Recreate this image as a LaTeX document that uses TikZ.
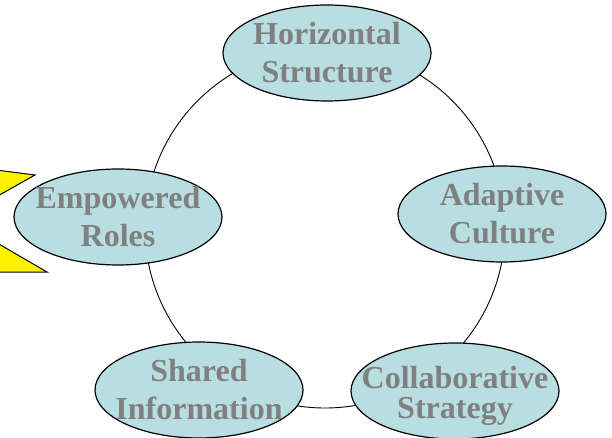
\documentclass[tikz,border=0pt]{standalone}
\usepackage{fontspec}
\setmainfont{Liberation Serif}
\usetikzlibrary{shapes.geometric}

\definecolor{rolefill}{RGB}{184,222,226}
\definecolor{roletext}{RGB}{128,128,128}

\tikzset{
    role/.style={ellipse, draw, line width=1.2pt, fill=rolefill,
        minimum width=208pt, minimum height=96pt, inner sep=0pt,
        label={[rolelabel]center:#1}},
    rolelabel/.style={text=roletext, align=center, inner sep=0pt,
        font=\bfseries\fontsize{32}{38}\selectfont},
    tightlabel/.style={rolelabel, font=\bfseries\fontsize{32}{30}\selectfont},
}

\begin{document}
\begin{tikzpicture}[x=1pt, y=-1pt]
    \useasboundingbox (0,0) rectangle (612,438);
    \coordinate (hub) at (325,228);

    \draw[line width=0.9pt] (hub) circle (180pt);

    \begin{scope}
        \clip (0,0) rectangle (612,438);
        \draw[line width=1pt, fill=yellow] (-60,150) -- (-20,168) -- (35,175) -- (-20,206)
            -- (-20,233) -- (47,272) -- (-20,272) -- (-60,290) -- cycle;
    \end{scope}

    \node[role={Horizontal\\Structure}] at (327,53)  (horiz)   {};
    \node[role={Adaptive\\Culture}]     at (502,214) (adapt)   {};
    \node[role={Empowered\\Roles}]      at (118,217) (empower) {};
    \node[role={Shared\\Information}]   at (199,390) (shared)  {};
    \node[role={}, label={[tightlabel, yshift=-5pt]center:Collaborative\\Strategy}] at (455,391) (collab) {};
\end{tikzpicture}
\end{document}
